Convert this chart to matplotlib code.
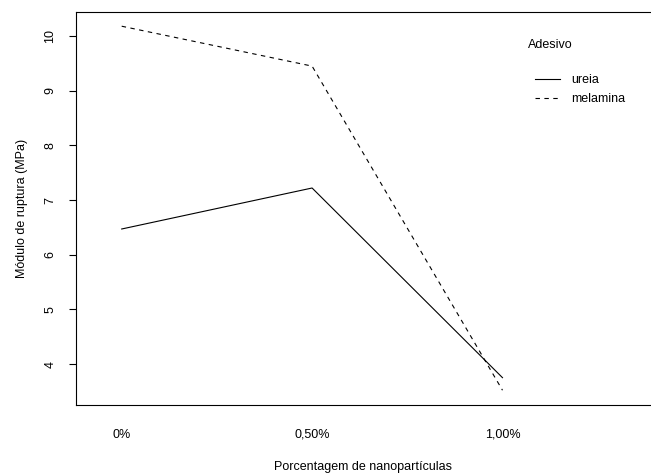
import matplotlib
matplotlib.use("Agg")
import matplotlib.pyplot as plt

plt.rcParams["font.family"] = ["Liberation Sans", "DejaVu Sans"]

# interaction plot: modulus of rupture by nanoparticle percentage and adhesive
niveis = ["0%", "0,50%", "1,00%"]
ureia = [6.47, 7.22, 3.75]
melamina = [10.18, 9.45, 3.52]

fig = plt.figure(figsize=(6.51, 4.73), dpi=100)
ax = fig.add_axes([76 / 651, 68 / 473, 1 - 76 / 651, 393 / 473])

x = list(range(1, len(niveis) + 1))
ax.plot(x, ureia, color="black", lw=0.8, label="ureia")
ax.plot(x, melamina, color="black", lw=0.8, ls=(0, (4, 4)), label="melamina")

ax.set_xlim(0.76, 3.78)
ax.set_ylim(3.25, 10.44)
ax.set_xticks(x)
ax.set_xticklabels(niveis)
ax.set_yticks(range(4, 11))
ax.tick_params(axis="x", length=0, pad=17, labelsize=9)
ax.tick_params(axis="y", length=5, width=0.8, pad=9, labelsize=9, labelrotation=90)
for lab in ax.get_yticklabels():
    lab.set_va("center")
ax.spines["right"].set_visible(False)
for s in ("left", "top", "bottom"):
    ax.spines[s].set_linewidth(0.8)

ax.set_xlabel("Porcentagem de nanopartículas", fontsize=9, labelpad=15)
ax.set_ylabel("Módulo de ruptura (MPa)", fontsize=9, labelpad=12)

# legend in R style: title on its own line, entries further down
fig.text(528 / 651, 1 - 45 / 473, "Adesivo", fontsize=9, ha="left", va="center")
ax.legend(loc="upper left", bbox_to_anchor=(524 / 651, 1 - 63 / 473),
          bbox_transform=fig.transFigure, frameon=False, fontsize=9,
          handlelength=2.0, handletextpad=0.85, labelspacing=0.58)

fig.savefig("out.png", dpi=100)
